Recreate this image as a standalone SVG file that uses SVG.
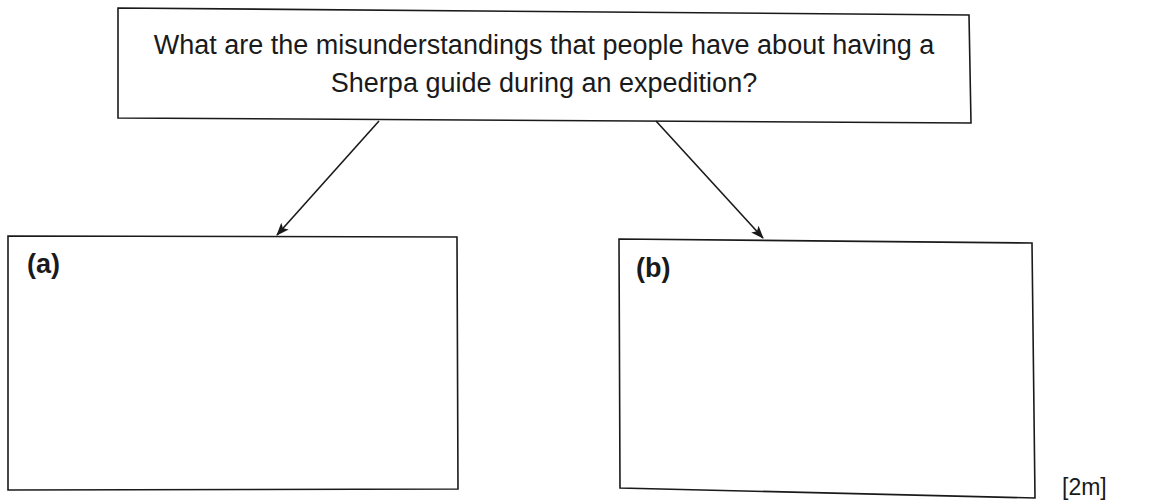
<svg xmlns="http://www.w3.org/2000/svg" width="1167" height="500" viewBox="0 0 1167 500">
<style>
.box{fill:none;stroke:#1a1a1a;stroke-width:1.6;stroke-linejoin:miter}
.q{font-family:"Liberation Sans",Arial,sans-serif;font-size:27px;fill:#1a1a1a;text-anchor:middle}
.lbl{font-family:"Liberation Sans",Arial,sans-serif;font-size:27px;font-weight:bold;fill:#1a1a1a}
.mk{font-family:"Liberation Sans",Arial,sans-serif;font-size:23px;fill:#1a1a1a}
.conn{stroke:#1a1a1a;stroke-width:1.6;fill:none}
</style>
<defs>
<marker id="arr" viewBox="0 0 13 10" refX="12" refY="5" markerWidth="13" markerHeight="10" markerUnits="userSpaceOnUse" orient="auto">
<path d="M0,0 L13,5 L0,10 L3,5 Z" fill="#1a1a1a"/>
</marker>
</defs>
<rect width="1167" height="500" fill="#fff"/>
<g id="question">
<polygon class="box" points="118,8 969,15 971,123 118,118"/>
<text class="q" x="544" y="54">What are the misunderstandings that people have about having a</text>
<text class="q" x="544" y="92">Sherpa guide during an expedition?</text>
</g>
<g id="node-a">
<polygon class="box" points="8,236 457,237 458,489 8,490"/>
<text class="lbl" x="27" y="273">(a)</text>
</g>
<g id="node-b">
<polygon class="box" points="619,239 1032,243 1035,498 620,488"/>
<text class="lbl" x="636" y="277">(b)</text>
</g>
<g id="marks">
<text class="mk" x="1062" y="495">[2m]</text>
</g>
<g id="connectors">
<line class="conn" x1="379" y1="121" x2="277" y2="235" marker-end="url(#arr)"/>
<line class="conn" x1="656" y1="121" x2="763" y2="238" marker-end="url(#arr)"/>
</g>
</svg>
